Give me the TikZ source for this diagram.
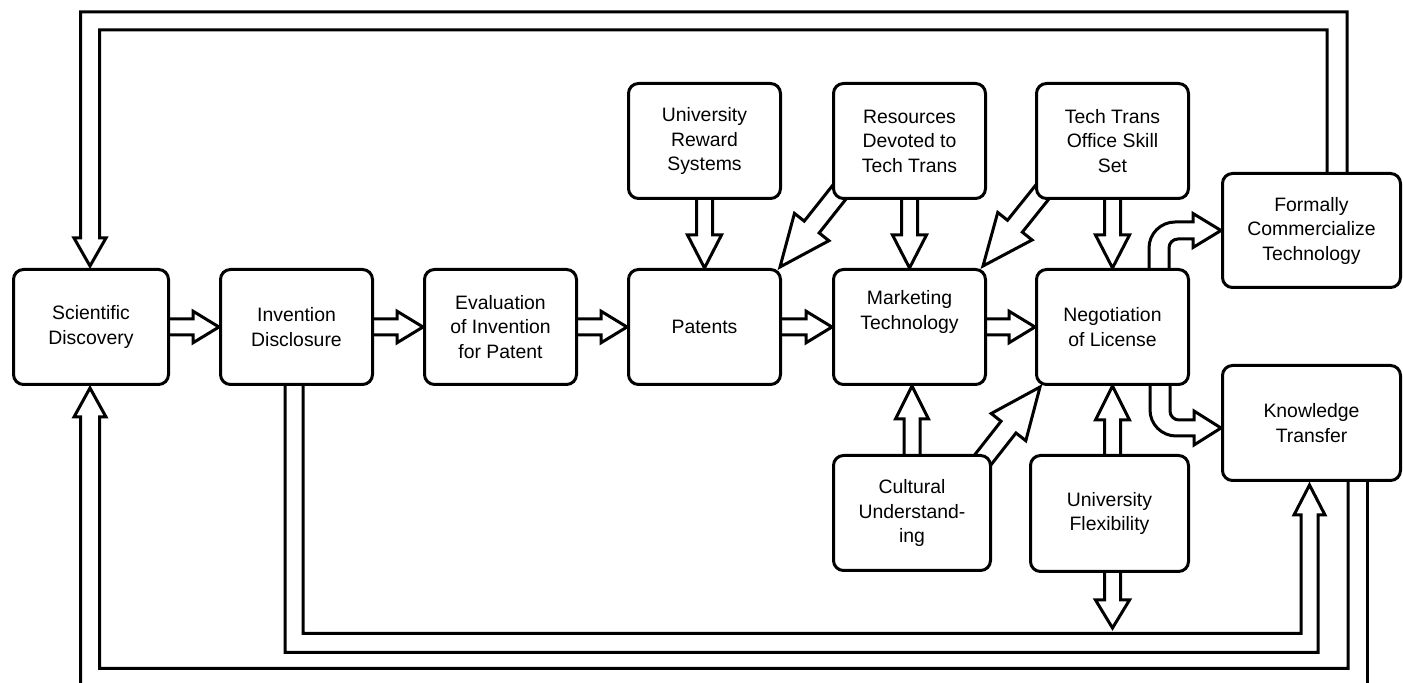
\documentclass[tikz,border=0pt]{standalone}
\usepackage{fontspec}
\setmainfont{Liberation Sans}
\usetikzlibrary{calc}
\pgfdeclarelayer{bg}
\pgfsetlayers{bg,main}

% Hollow block arrow: #1 tail, #2 tip, #3 shaft half width, #4 head half width, #5 head length
\newcommand\blockarrow[5]{%
  \coordinate (ba-a) at (#1);
  \coordinate (ba-b) at (#2);
  \coordinate (ba-h) at ($(ba-b)!#5!(ba-a)$);
  \draw[arrowline] ($(ba-a)!#3!90:(ba-b)$) -- ($(ba-h)!#3!90:(ba-b)$)
    -- ($(ba-h)!#4!90:(ba-b)$) -- (ba-b) -- ($(ba-h)!#4!-90:(ba-b)$)
    -- ($(ba-h)!#3!-90:(ba-b)$) -- ($(ba-a)!#3!-90:(ba-b)$);
}

\begin{document}
\begin{tikzpicture}[x=0.5pt,y=-0.5pt,
  box/.style={draw, line width=1.5pt, rounded corners=5pt, fill=white,
    align=center, inner sep=0pt, font=\fontsize{9.7}{12.25}\selectfont},
  mainbox/.style={box, minimum width=76pt, minimum height=57.5pt},
  arrowline/.style={draw, line width=1.5pt, line join=miter},
  loopline/.style={draw, line width=1.5pt, line join=miter}]
\useasboundingbox (0,0) rectangle (1403,683);

% process chain
\node[box, minimum width=77.5pt, minimum height=57.5pt] (sd) at (91,327) {Scientific\\Discovery};
\node[mainbox] (id) at (296.5,327) {Invention\\Disclosure};
\node[mainbox] (ev) at (500.5,327) {Evaluation\\of Invention\\for Patent};
\node[mainbox] (pa) at (704.5,327) {Patents};
\node[mainbox] (mk) at (909.5,327) {Marketing\\Technology\\[1pt]\strut};
\node[mainbox] (ng) at (1112.5,327) {Negotiation\\of License};

% influencing factors
\node[mainbox] (rw) at (704.5,141) {University\\Reward\\Systems};
\node[mainbox] (rs) at (909.5,141) {Resources\\Devoted to\\Tech Trans};
\node[mainbox] (tt) at (1112.5,141) {Tech Trans\\Office Skill\\Set};
\node[box, minimum width=78.5pt, minimum height=57.5pt] (cu) at (912,513) {Cultural\\Understand-\\ing};
\node[box, minimum width=79pt, minimum height=58pt] (fl) at (1109.5,513.5) {University\\Flexibility};

% outcomes
\node[box, minimum width=89pt, minimum height=57pt] (fc) at (1311.5,230.5) {Formally\\Commercialize\\Technology};
\node[box, minimum width=89pt, minimum height=57.5pt] (kt) at (1311.5,423) {Knowledge\\Transfer};

\begin{pgfonlayer}{bg}
% chain arrows
\blockarrow{sd.east}{id.west}{4pt}{7.9pt}{13pt}
\blockarrow{id.east}{ev.west}{4pt}{7.9pt}{13pt}
\blockarrow{ev.east}{pa.west}{4pt}{7.9pt}{13pt}
\blockarrow{pa.east}{mk.west}{4pt}{7.9pt}{13pt}
\blockarrow{mk.east}{ng.west}{4pt}{7.9pt}{13pt}

% factors acting downwards
\blockarrow{rw.south}{pa.north}{4pt}{8.5pt}{16.5pt}
\blockarrow{rs.south}{mk.north}{4pt}{8.5pt}{16.5pt}
\blockarrow{tt.south}{ng.north}{4pt}{8.5pt}{16.5pt}

% diagonal influences
\blockarrow{$(rs.south west)+(17,-20)$}{$(pa.north east)+(-2,-1)$}{4.75pt}{11pt}{25.5pt}
\blockarrow{$(tt.south west)+(17,-20)$}{$(mk.north east)+(-4,-2)$}{4.75pt}{11pt}{25.5pt}
\blockarrow{$(cu.north east)+(-19.5,19)$}{$(ng.south west)+(5,1)$}{4.75pt}{11pt}{25.5pt}

% factors acting upwards
\blockarrow{cu.north}{cu.north |- mk.south}{4pt}{8.25pt}{16.5pt}
\coordinate (flt) at (fl.north -| ng.south);
\blockarrow{flt}{ng.south}{4pt}{8.5pt}{17pt}
\coordinate (flb) at (ng.south |- fl.south);
\coordinate (flx) at ($(flb)+(0,55)$);
\blockarrow{flb}{flx}{4pt}{8.5pt}{14pt}

% negotiation outcomes
\draw[arrowline] ($(ng.north)+(36.5,0)$) -- (1149,248)
  .. controls (1149,233.7) and (1160.7,222) .. (1175,222) -- (1193,222)
  -- (1193,213.5) -- (fc.west) -- (1193,247.5) -- (1193,239) -- (1178,239)
  .. controls (1173,239) and (1169,243) .. (1169,248) -- ($(ng.north)+(56.5,0)$);
\coordinate (ktin) at ($(kt.west)+(0,5)$);
\draw[arrowline] ($(ng.south)+(37.5,0)$) -- (1150,410)
  .. controls (1150,424.3) and (1161.7,436) .. (1176,436) -- (1194,436)
  -- (1194,445) -- (ktin) -- (1194,411) -- (1194,420) -- (1179,420)
  .. controls (1174,420) and (1170,416) .. (1170,411) -- ($(ng.south)+(57.5,0)$);

% feedback from formal commercialization
\coordinate (sdtop) at ($(sd.north)+(-1,-2)$);
\draw[loopline] ($(fc.north)+(35.5,0)$) |- (80.5,12) -- (80.5,238) -- (74,238)
  -- (sdtop) -- (106,238) -- (99.5,238) -- (99.5,30) -| ($(fc.north)+(15.5,0)$);

% feedback from knowledge transfer, both rails leaving the lower edge
\coordinate (sdbot) at ($(sd.south)+(-1,2)$);
\draw[loopline] (80.5,683) -- (80.5,417) -- (74,417) -- (sdbot) -- (106,417)
  -- (99.5,417) -- (99.5,668.5) -| ($(kt.south)+(36.5,0)$);
\coordinate (ktout) at ($(kt.south)+(55.5,0)$);
\coordinate (ktedge) at (1367,683);
\draw[loopline] (ktout) -- (ktout |- ktedge);

% disclosures feeding knowledge transfer directly
\coordinate (ktbot) at ($(kt.south)+(-2,3)$);
\draw[loopline] ($(id.south)+(-11.5,0)$) |- (1318,652.5) -- (1318,515) -- (1325,515)
  -- (ktbot) -- (1294,515) -- (1301,515) -- (1301,633.5) -| ($(id.south)+(6.5,0)$);
\end{pgfonlayer}
\end{tikzpicture}
\end{document}
